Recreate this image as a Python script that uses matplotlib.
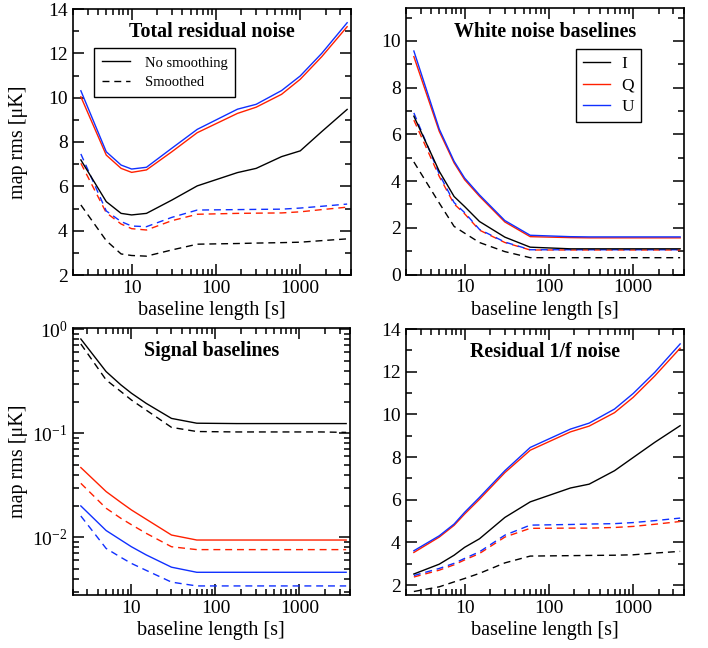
import matplotlib
matplotlib.use("Agg")
import matplotlib.pyplot as plt
from matplotlib.ticker import LogLocator, FixedLocator, FixedFormatter, MultipleLocator, NullFormatter

plt.rcParams['font.family'] = ['Liberation Serif', 'DejaVu Serif']
plt.rcParams['mathtext.fontset'] = 'stix'

# baseline lengths [s]
baseline = [2.5, 5, 7.5, 10, 15, 30, 60, 180, 300, 600, 1000, 1800, 3600]

# Total residual noise
total_I = [7.19, 5.31, 4.78, 4.71, 4.78, 5.38, 6.02, 6.62, 6.81, 7.34, 7.6, 8.47, 9.47]
total_Q = [10.04, 7.41, 6.81, 6.63, 6.74, 7.56, 8.42, 9.29, 9.57, 10.15, 10.83, 11.85, 13.2]
total_U = [10.31, 7.56, 6.96, 6.78, 6.86, 7.72, 8.57, 9.48, 9.70, 10.32, 10.98, 12.0, 13.38]
total_I_sm = [5.16, 3.55, 2.95, 2.88, 2.85, 3.13, 3.39, 3.42, 3.44, 3.46, 3.48, 3.55, 3.63]
total_Q_sm = [7.04, 4.81, 4.30, 4.09, 4.03, 4.45, 4.74, 4.78, 4.79, 4.80, 4.85, 4.95, 5.06]
total_U_sm = [7.46, 4.89, 4.41, 4.21, 4.18, 4.60, 4.93, 4.95, 4.96, 4.97, 5.02, 5.1, 5.2]

# White noise baselines
white_I = [6.78, 4.42, 3.34, 2.91, 2.27, 1.6, 1.17, 1.1, 1.1, 1.1, 1.1, 1.1, 1.1]
white_Q = [9.33, 6.13, 4.78, 4.06, 3.35, 2.25, 1.62, 1.58, 1.57, 1.57, 1.57, 1.57, 1.57]
white_U = [9.57, 6.23, 4.85, 4.13, 3.41, 2.31, 1.68, 1.62, 1.61, 1.61, 1.61, 1.61, 1.61]
white_I_sm = [4.82, 3.06, 2.06, 1.77, 1.37, 0.98, 0.72, 0.72, 0.72, 0.72, 0.72, 0.72, 0.72]
white_Q_sm = [6.61, 4.2, 3.02, 2.6, 1.9, 1.37, 1.05, 1.05, 1.05, 1.05, 1.05, 1.05, 1.05]
white_U_sm = [6.92, 4.3, 3.08, 2.65, 1.93, 1.39, 1.06, 1.06, 1.06, 1.06, 1.06, 1.06, 1.06]

# Signal baselines
signal_I = [0.807, 0.392, 0.292, 0.243, 0.194, 0.139, 0.125, 0.124, 0.124, 0.124, 0.124, 0.124, 0.124]
signal_Q = [0.0468, 0.0275, 0.0216, 0.0183, 0.0149, 0.0105, 0.0094, 0.0094, 0.0094, 0.0094, 0.0094, 0.0094, 0.0094]
signal_U = [0.020, 0.0116, 0.0094, 0.0081, 0.00676, 0.00515, 0.0046, 0.0046, 0.0046, 0.0046, 0.0046, 0.0046, 0.0046]
signal_I_sm = [0.723, 0.326, 0.252, 0.209, 0.167, 0.114, 0.104, 0.103, 0.103, 0.103, 0.103, 0.103, 0.102]
signal_Q_sm = [0.033, 0.019, 0.0152, 0.0132, 0.0109, 0.0081, 0.0076, 0.0076, 0.0076, 0.0076, 0.0076, 0.0076, 0.0076]
signal_U_sm = [0.016, 0.0078, 0.0064, 0.0056, 0.0048, 0.0037, 0.0034, 0.0034, 0.0034, 0.0034, 0.0034, 0.0034, 0.0034]

# Residual 1/f noise
onef_I = [2.52, 2.98, 3.4, 3.77, 4.17, 5.17, 5.9, 6.55, 6.73, 7.36, 7.98, 8.69, 9.47]
onef_Q = [3.53, 4.25, 4.8, 5.33, 6.02, 7.27, 8.32, 9.18, 9.45, 10.08, 10.8, 11.8, 13.1]
onef_U = [3.61, 4.31, 4.86, 5.41, 6.11, 7.36, 8.45, 9.31, 9.59, 10.25, 10.98, 11.97, 13.3]
onef_I_sm = [1.7, 1.92, 2.15, 2.31, 2.55, 3.04, 3.36, 3.38, 3.39, 3.4, 3.42, 3.5, 3.58]
onef_Q_sm = [2.38, 2.7, 2.95, 3.18, 3.48, 4.25, 4.66, 4.67, 4.67, 4.7, 4.75, 4.85, 4.98]
onef_U_sm = [2.45, 2.78, 3.02, 3.25, 3.56, 4.34, 4.81, 4.84, 4.86, 4.88, 4.93, 5.02, 5.14]

titles = ['Total residual noise', 'White noise baselines', 'Signal baselines', 'Residual 1/f noise']

fig = plt.figure(figsize=(7.08, 6.48), dpi=100)
W, H = 708.0, 648.0
boxes = [(72.7, 9, 351, 275), (405.7, 8.3, 684, 274.5),
         (72.7, 328, 350, 594.7), (405.7, 329, 684, 594.7)]
axes = []
for (x0, y0, x1, y1) in boxes:
    axes.append(fig.add_axes([x0 / W, 1 - y1 / H, (x1 - x0) / W, (y1 - y0) / H]))

data = [
    (total_I, total_Q, total_U, total_I_sm, total_Q_sm, total_U_sm),
    (white_I, white_Q, white_U, white_I_sm, white_Q_sm, white_U_sm),
    (signal_I, signal_Q, signal_U, signal_I_sm, signal_Q_sm, signal_U_sm),
    (onef_I, onef_Q, onef_U, onef_I_sm, onef_Q_sm, onef_U_sm),
]
colors = ['black', '#ff2000', '#1030ff']
dash = (0, (5, 3.5))

for i, ax in enumerate(axes):
    I, Q, U, Is, Qs, Us = data[i]
    for y, c in zip((Is, Qs, Us), colors):
        ax.plot(baseline, y, color=c, lw=1.0, linestyle=dash)
    for y, c in zip((I, Q, U), colors):
        ax.plot(baseline, y, color=c, lw=1.0)
    ax.set_xscale('log')
    ax.set_xlim(2.0, 4000)
    ax.xaxis.set_major_locator(FixedLocator([10, 100, 1000]))
    ax.xaxis.set_major_formatter(FixedFormatter(['10', '100', '1000']))
    ax.xaxis.set_minor_locator(LogLocator(base=10, subs=range(2, 10), numticks=20))
    ax.xaxis.set_minor_formatter(NullFormatter())
    ax.tick_params(which='both', direction='in', top=True, right=True, labelsize=14, width=1.1)
    ax.tick_params(which='major', length=8)
    ax.tick_params(which='minor', length=4.5)
    for s in ax.spines.values():
        s.set_linewidth(1.2)
    ax.set_xlabel('baseline length [s]', fontsize=14.5, labelpad=3)
    ax.text(0.5, 0.912, titles[i], transform=ax.transAxes, ha='center', va='center',
            fontsize=14.4, fontweight='bold')

axes[0].set_ylim(2, 14)
axes[1].set_ylim(0, 11.4)
axes[3].set_ylim(1.55, 14)
for ax in (axes[0], axes[1], axes[3]):
    ax.yaxis.set_major_locator(MultipleLocator(2))
    ax.yaxis.set_minor_locator(MultipleLocator(1))

axes[2].set_yscale('log')
axes[2].set_ylim(0.0028, 1.03)
axes[2].yaxis.set_major_locator(LogLocator(base=10, numticks=10))
axes[2].yaxis.set_minor_locator(LogLocator(base=10, subs=range(2, 10), numticks=20))
axes[2].yaxis.set_minor_formatter(NullFormatter())

for ax in (axes[0], axes[2]):
    ax.set_ylabel('map rms [μK]', fontsize=14.5)
    ax.yaxis.set_label_coords(-0.16, 0.5)

# legends
h1, = axes[0].plot([], [], color='black', lw=1.0)
h2, = axes[0].plot([], [], color='black', lw=1.0, linestyle=dash)
leg = axes[0].legend([h1, h2], ['No smoothing', 'Smoothed'], loc='upper left',
                     bbox_to_anchor=(0.078, 0.852), borderaxespad=0, fontsize=10.5,
                     fancybox=False, edgecolor='black', framealpha=1, handlelength=1.9,
                     handletextpad=1.0, borderpad=0.55, labelspacing=0.45)
leg.get_frame().set_linewidth(1.0)

hs = [axes[1].plot([], [], color=c, lw=1.0)[0] for c in colors]
leg2 = axes[1].legend(hs, ['I', 'Q', 'U'], loc='upper left', bbox_to_anchor=(0.611, 0.846),
                      borderaxespad=0, fontsize=12.5, fancybox=False, edgecolor='black',
                      framealpha=1, handlelength=1.6, handletextpad=0.65, borderpad=0.4,
                      labelspacing=0.3)
leg2.get_frame().set_linewidth(1.0)

fig.savefig('out.png', dpi=100)
